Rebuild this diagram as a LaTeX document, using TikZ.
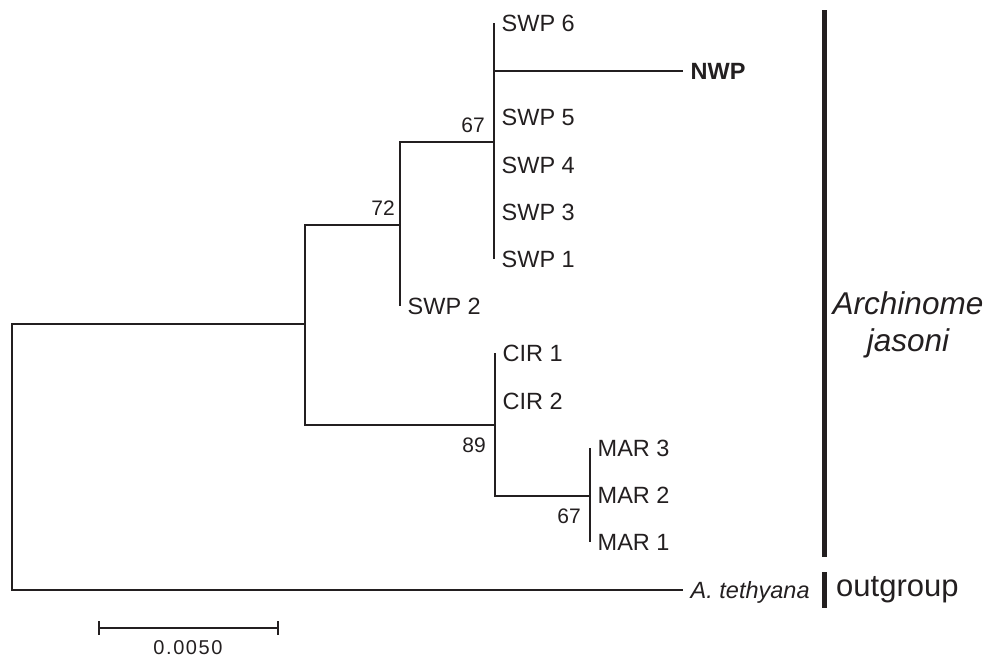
\documentclass[tikz,border=0pt]{standalone}
\usepackage{fontspec}
\setmainfont{Liberation Sans}
\usetikzlibrary{positioning}
\definecolor{treeink}{RGB}{35,31,32}

\begin{document}
\begin{tikzpicture}[
    x=1pt, y=-1pt,
    tree/.style={draw=treeink, line width=1.8pt},
    bar/.style={draw=treeink, line width=5pt},
    tip/.style={anchor=west, inner xsep=7.5pt, inner ysep=0pt, text height=17pt, text depth=0pt, text=treeink, font=\fontsize{23.5}{28}\selectfont},
    bs/.style={inner sep=0pt, text height=15pt, text depth=0pt, text=treeink, font=\fontsize{21}{25}\selectfont},
    clade/.style={inner sep=0pt, text=treeink, font=\fontsize{31}{37}\selectfont}
]
    \useasboundingbox (0,0) rectangle (985,657);

    % internal nodes
    \coordinate (root) at (12,457);
    \coordinate (nA) at (305,324);
    \coordinate (n72) at (400,225);
    \coordinate (n67) at (494,142);
    \coordinate (ncir) at (495,425);
    \coordinate (nmar) at (590,496);

    % SWP clade
    \node[tip] (swp6) at (494,23) {SWP 6};
    \node[tip, font=\fontsize{23.5}{28}\selectfont\bfseries] (nwp) at (683,71) {NWP};
    \node[tip] (swp5) at (494,117.4) {SWP 5};
    \node[tip] (swp4) at (494,164.6) {SWP 4};
    \node[tip] (swp3) at (494,211.8) {SWP 3};
    \node[tip] (swp1) at (494,259) {SWP 1};
    \node[tip] (swp2) at (400,306.2) {SWP 2};

    % CIR and MAR
    \node[tip] (cir1) at (495,353.4) {CIR 1};
    \node[tip] (cir2) at (495,400.6) {CIR 2};
    \node[tip] (mar3) at (590,447.8) {MAR 3};
    \node[tip] (mar2) at (590,495) {MAR 2};
    \node[tip] (mar1) at (590,542.2) {MAR 1};

    % outgroup
    \node[tip, font=\fontsize{23.5}{28}\selectfont\itshape] (teth) at (683,590) {A. tethyana};

    % bootstrap values
    \node[bs, above left=9.5pt and 9pt of n67] (bs67a) {67};
    \node[bs, above left=9.5pt and 5pt of n72] (bs72) {72};
    \node[bs, below left=12.5pt and 9pt of ncir] (bs89) {89};
    \node[bs, below left=12.5pt and 9pt of nmar] (bs67b) {67};

    % branches
    \draw[tree] (root) |- (nA);
    \draw[tree] (root) |- (teth.west);
    \draw[tree] (nA) |- (n72);
    \draw[tree] (nA) |- (ncir);
    \draw[tree] (n72) |- (n67);
    \draw[tree] (n72) |- (swp2.west);
    \draw[tree] (n67) |- (swp6.west);
    \draw[tree] (n67) |- (nwp.west);
    \draw[tree] (n67) |- (swp5.west);
    \draw[tree] (n67) |- (swp4.west);
    \draw[tree] (n67) |- (swp3.west);
    \draw[tree] (n67) |- (swp1.west);
    \draw[tree] (ncir) |- (cir1.west);
    \draw[tree] (ncir) |- (cir2.west);
    \draw[tree] (ncir) |- (nmar);
    \draw[tree] (nmar) |- (mar3.west);
    \draw[tree] (nmar) |- (mar2.west);
    \draw[tree] (nmar) |- (mar1.west);

    % clade bars
    \coordinate (ajtop) at (824,10);
    \coordinate (ajbot) at (824,557);
    \coordinate (ogtop) at (824,572);
    \coordinate (ogbot) at (824,608);
    \draw[bar] (ajtop) -- (ajbot);
    \draw[bar] (ogtop) -- (ogbot);
    \node[clade, font=\fontsize{31.5}{37}\selectfont\itshape, align=center] (arch) at (908,325) {Archinome\\jasoni};
    \node[clade, anchor=base west] (outg) at (836,596.5) {outgroup};

    % scale bar
    \coordinate (sbl) at (99,628);
    \coordinate (sbr) at (278,628);
    \draw[tree] (sbl) -- (sbr);
    \draw[tree] ([yshift=7pt]sbl) -- ([yshift=-7pt]sbl);
    \draw[tree] ([yshift=7pt]sbr) -- ([yshift=-7pt]sbr);
    \node[bs, font=\fontsize{20}{24}\selectfont\addfontfeature{LetterSpace=8}] (scale) at (188,647) {0.0050};
\end{tikzpicture}
\end{document}
